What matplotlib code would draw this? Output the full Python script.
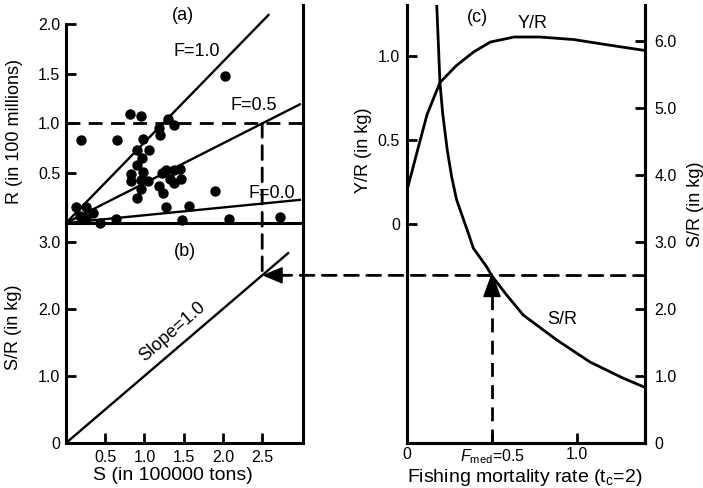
import matplotlib
matplotlib.use("Agg")
import matplotlib.pyplot as plt
from matplotlib.patches import ConnectionPatch

plt.rcParams["font.family"] = ["Liberation Sans", "DejaVu Sans"]
plt.rcParams["mathtext.fontset"] = "custom"
plt.rcParams["mathtext.rm"] = "Liberation Sans"
plt.rcParams["mathtext.it"] = "Liberation Sans:italic"

# (a) stock-recruitment observations
s_obs = [2.03, 0.81, 0.96, 0.19, 0.65, 1.30, 1.38, 1.19, 1.20, 0.98, 0.90,
         1.06, 0.97, 0.90, 0.83, 0.98, 0.83, 0.95, 1.04, 0.95, 0.91, 1.19,
         1.23, 1.22, 1.27, 1.37, 1.45, 1.32, 1.38, 1.47, 1.28, 1.57, 1.90,
         0.13, 0.26, 0.34, 0.18, 0.26, 0.43, 0.64, 1.48, 2.08, 2.73]
r_obs = [1.48, 1.09, 1.075, 0.83, 0.83, 1.04, 0.98, 0.95, 0.88, 0.84, 0.73,
         0.73, 0.65, 0.58, 0.49, 0.51, 0.42, 0.43, 0.42, 0.34, 0.25, 0.37,
         0.30, 0.50, 0.53, 0.53, 0.54, 0.44, 0.40, 0.44, 0.16, 0.17, 0.32,
         0.16, 0.16, 0.10, 0.07, 0.05, 0.00, 0.04, 0.03, 0.04, 0.06]

# replacement lines R = slope * S
f_labels = ["F=1.0", "F=0.5", "F=0.0"]
f_slopes = [0.81, 0.40, 0.078]
f_s_end = [2.58, 2.98, 2.98]

# (b) S/R line
slope_sr = 1.0
slope_s_end = 2.83

# (c) per-recruit curves
f_yr = [0.0, 0.06, 0.118, 0.194, 0.29, 0.39, 0.49, 0.63, 0.78, 0.98, 1.17, 1.40]
yr = [0.20, 0.43, 0.65, 0.84, 0.94, 1.02, 1.08, 1.11, 1.11, 1.095, 1.065, 1.03]
f_sr = [0.175, 0.194, 0.21, 0.237, 0.263, 0.292, 0.361, 0.39, 0.469, 0.498,
        0.586, 0.684, 0.88, 1.076, 1.27, 1.40]
sr = [6.54, 5.37, 4.92, 4.37, 3.97, 3.63, 3.13, 2.91, 2.63, 2.50,
      2.21, 1.91, 1.54, 1.21, 0.97, 0.83]

r_target = 1.0
s_target = 2.5
sr_target = 2.5
f_med = 0.5

W, H = 703, 488
DASH = (0, (5, 3))


def box(left, top, right, bottom):
    return [left / W, 1 - bottom / H, (right - left) / W, (bottom - top) / H]


def ftext(x, y, s, **kw):
    fig.text(x / W, 1 - y / H, s, ha="center", va="center", **kw)


fig = plt.figure(figsize=(W / 100, H / 100), dpi=100)
ax_a = fig.add_axes(box(66, 5, 303, 223))
ax_b = fig.add_axes(box(66, 223, 303, 443))
ax_c = fig.add_axes(box(407, 5, 645, 443))
ax_c2 = ax_c.twinx()

for ax in (ax_a, ax_b, ax_c, ax_c2):
    ax.patch.set_visible(False)
    for sp in ax.spines.values():
        sp.set_linewidth(2.2)
    ax.spines["top"].set_visible(False)
    ax.tick_params(direction="in", length=7, width=2, labelsize=11.5)

# ---- panel (a)
ax_a.set_xlim(0, 3.02)
ax_a.set_ylim(0, 2.19)
ax_a.spines["left"].set_bounds(0, 2.0)
ax_a.set_xticks([])
ax_a.set_yticks([0.5, 1.0, 1.5, 2.0], ["0.5", "1.0", "1.5", "2.0"])
ax_a.tick_params(axis="y", pad=4)
ax_a.scatter(s_obs, r_obs, s=42, color="black", clip_on=False, zorder=3)
for slope, s_end in zip(f_slopes, f_s_end):
    ax_a.plot([0, s_end], [0, slope * s_end], color="black", lw=1.7)
ax_a.axhline(r_target, color="black", lw=2, ls=DASH)

# ---- panel (b)
ax_b.set_xlim(0, 3.02)
ax_b.set_ylim(0, 3.28)
ax_b.set_xticks([0.5, 1.0, 1.5, 2.0, 2.5], ["0.5", "1.0", "1.5", "2.0", "2.5"])
ax_b.set_yticks([0, 1, 2, 3], ["0", "1.0", "2.0", "3.0"])
ax_b.tick_params(axis="y", pad=4)
ax_b.tick_params(axis="x", pad=5)
ax_b.plot([0, slope_s_end], [0, slope_sr * slope_s_end], color="black", lw=1.7)
ax_b.annotate("", xy=(s_target, sr_target), xytext=(s_target + 0.23, sr_target),
              arrowprops=dict(arrowstyle="-|>,head_length=0.65,head_width=0.27",
                              mutation_scale=20, color="black", lw=1,
                              shrinkA=0, shrinkB=0))

# ---- panel (c)
ax_c.set_xlim(0, 1.40)
ax_c.set_ylim(-1.30, 1.30)
ax_c2.set_ylim(0, 6.54)
ax_c.set_xticks([0, 0.5, 1.0], ["0", r"$F_{\rm med}$=0.5", "1.0"])
ax_c.set_yticks([0, 0.5, 1.0], ["0", "0.5", "1.0"])
ax_c.tick_params(axis="y", pad=5)
ax_c.tick_params(axis="x", pad=3)
ax_c2.set_yticks([0, 1, 2, 3, 4, 5, 6],
                 ["0", "1.0", "2.0", "3.0", "4.0", "5.0", "6.0"])
ax_c2.tick_params(axis="y", pad=7)
ax_c.plot(f_yr, yr, color="black", lw=2, solid_joinstyle="round")
ax_c2.plot(f_sr, sr, color="black", lw=2, solid_joinstyle="round")
ax_c2.plot([f_med, f_med], [0, sr_target - 0.1], color="black", lw=2, ls=DASH)
ax_c2.annotate("", xy=(f_med, sr_target + 0.05),
               xytext=(f_med, sr_target + 0.05 - 0.33),
               arrowprops=dict(arrowstyle="-|>,head_length=0.8,head_width=0.29",
                               mutation_scale=20, color="black", lw=1,
                               shrinkA=0, shrinkB=0))

# dashed guides across panels
fig.add_artist(ConnectionPatch(xyA=(s_target, r_target), coordsA=ax_a.transData,
                               xyB=(s_target, sr_target), coordsB=ax_b.transData,
                               color="black", lw=2, ls=DASH))
fig.add_artist(ConnectionPatch(xyA=(s_target + 0.2, sr_target), coordsA=ax_b.transData,
                               xyB=(ax_c.get_xlim()[1], sr_target),
                               coordsB=ax_c2.transData,
                               color="black", lw=2, ls=DASH))

# labels
ftext(15, 132, "R (in 100 millions)", rotation=90, fontsize=13)
ftext(13, 327, "S/R (in kg)", rotation=90, fontsize=13)
ftext(173, 476, "S (in 100000 tons)", fontsize=14)
ftext(363, 150, "Y/R (in kg)", rotation=90, fontsize=13)
ftext(695, 204, "S/R (in kg)", rotation=90, fontsize=13)
ftext(525, 478, r"Fishing mortality rate (t$_{\rm c}$=2)", fontsize=14)

ftext(183, 15, "(a)", fontsize=13)
ftext(185, 252, "(b)", fontsize=13)
ftext(477, 17, "(c)", fontsize=13)
ftext(533, 23, "Y/R", fontsize=13)
ftext(562, 320, "S/R", fontsize=13)
for lab, (x, y) in zip(f_labels, [(197, 51), (254, 105), (272, 193)]):
    ftext(x, y, lab, fontsize=13)
ftext(172, 332, "Slope=1.0", rotation=41, fontsize=13)

fig.savefig("out.png", dpi=100)
